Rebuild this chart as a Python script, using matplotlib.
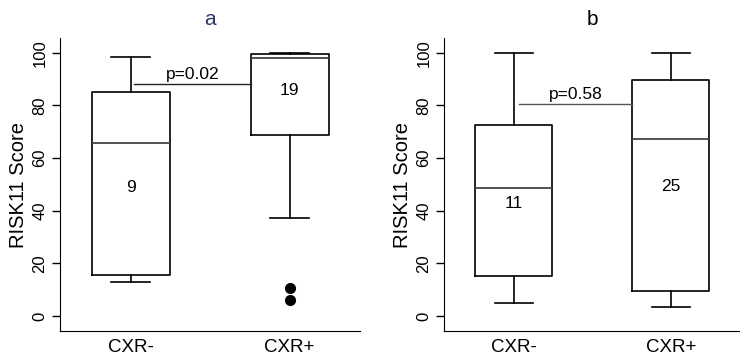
import matplotlib
matplotlib.use("Agg")
import matplotlib.pyplot as plt

plt.rcParams['font.family'] = ['Liberation Sans', 'DejaVu Sans']

groups = ["CXR-", "CXR+"]

# panel a: five-number summaries
a_whislo = [13.0, 37.3]
a_q1 = [15.8, 68.6]
a_med = [65.9, 97.9]
a_q3 = [85.0, 99.4]
a_whishi = [98.2, 100.0]
a_fliers = [[], [10.5, 6.2]]
a_n = ["9", "19"]
a_n_y = [48.8, 85.8]
a_p = "p=0.02"
a_p_y = 88.0

# panel b
b_whislo = [4.8, 3.5]
b_q1 = [15.4, 9.4]
b_med = [48.8, 67.1]
b_q3 = [72.4, 89.6]
b_whishi = [100.0, 100.0]
b_fliers = [[], []]
b_n = ["11", "25"]
b_n_y = [42.9, 49.2]
b_p = "p=0.58"
b_p_y = 80.4


def panel(ax, title, tcolor, whislo, q1, med, q3, whishi, fliers, ns, ny, ptxt, py, pcolor, pstart):
    stats = []
    for i in range(2):
        stats.append(dict(whislo=whislo[i], q1=q1[i], med=med[i], q3=q3[i],
                          whishi=whishi[i], fliers=fliers[i], label=groups[i]))
    ax.bxp(stats, positions=[1, 2], widths=0.49, showfliers=True,
           boxprops=dict(color='black', lw=1.2),
           whiskerprops=dict(color='black', lw=1.2),
           capprops=dict(color='black', lw=1.2),
           medianprops=dict(color='#444444', lw=1.3),
           flierprops=dict(marker='o', markerfacecolor='black', markeredgecolor='black', markersize=7))
    for i in range(2):
        ax.text(i + 1, ny[i], ns[i], ha='center', va='center', fontsize=12.5)
    ax.plot([pstart, 2 - 0.245], [py, py], color=pcolor, lw=1.0)
    ax.text((pstart + 2 - 0.245) / 2, py + 1.0, ptxt, ha='center', va='bottom', fontsize=12.5)
    ax.set_xlim(0.555, 2.44)
    ax.set_ylim(-5.7, 105.6)
    ax.set_yticks([0, 20, 40, 60, 80, 100])
    ax.set_yticklabels(["0", "20", "40", "60", "80", "100"], rotation=90, va='center')
    ax.tick_params(axis='y', labelsize=12, length=6, pad=3, width=1.0)
    ax.tick_params(axis='x', labelsize=13.5, length=0, pad=6)
    ax.set_ylabel("RISK11 Score", fontsize=14.5, labelpad=3)
    ax.set_title(title, fontsize=15, color=tcolor, pad=9)
    ax.spines['top'].set_visible(False)
    ax.spines['right'].set_visible(False)


fig = plt.figure(figsize=(7.4, 3.58), dpi=100)
ax1 = fig.add_axes([0.081, 0.075, 0.405, 0.819])
ax2 = fig.add_axes([0.600, 0.075, 0.400, 0.819])

panel(ax1, "a", "#2b3a67", a_whislo, a_q1, a_med, a_q3, a_whishi, a_fliers,
      a_n, a_n_y, a_p, a_p_y, '#222222', 1.02)
panel(ax2, "b", "black", b_whislo, b_q1, b_med, b_q3, b_whishi, b_fliers,
      b_n, b_n_y, b_p, b_p_y, '#555555', 1.03)

fig.savefig("out.png", dpi=100)
